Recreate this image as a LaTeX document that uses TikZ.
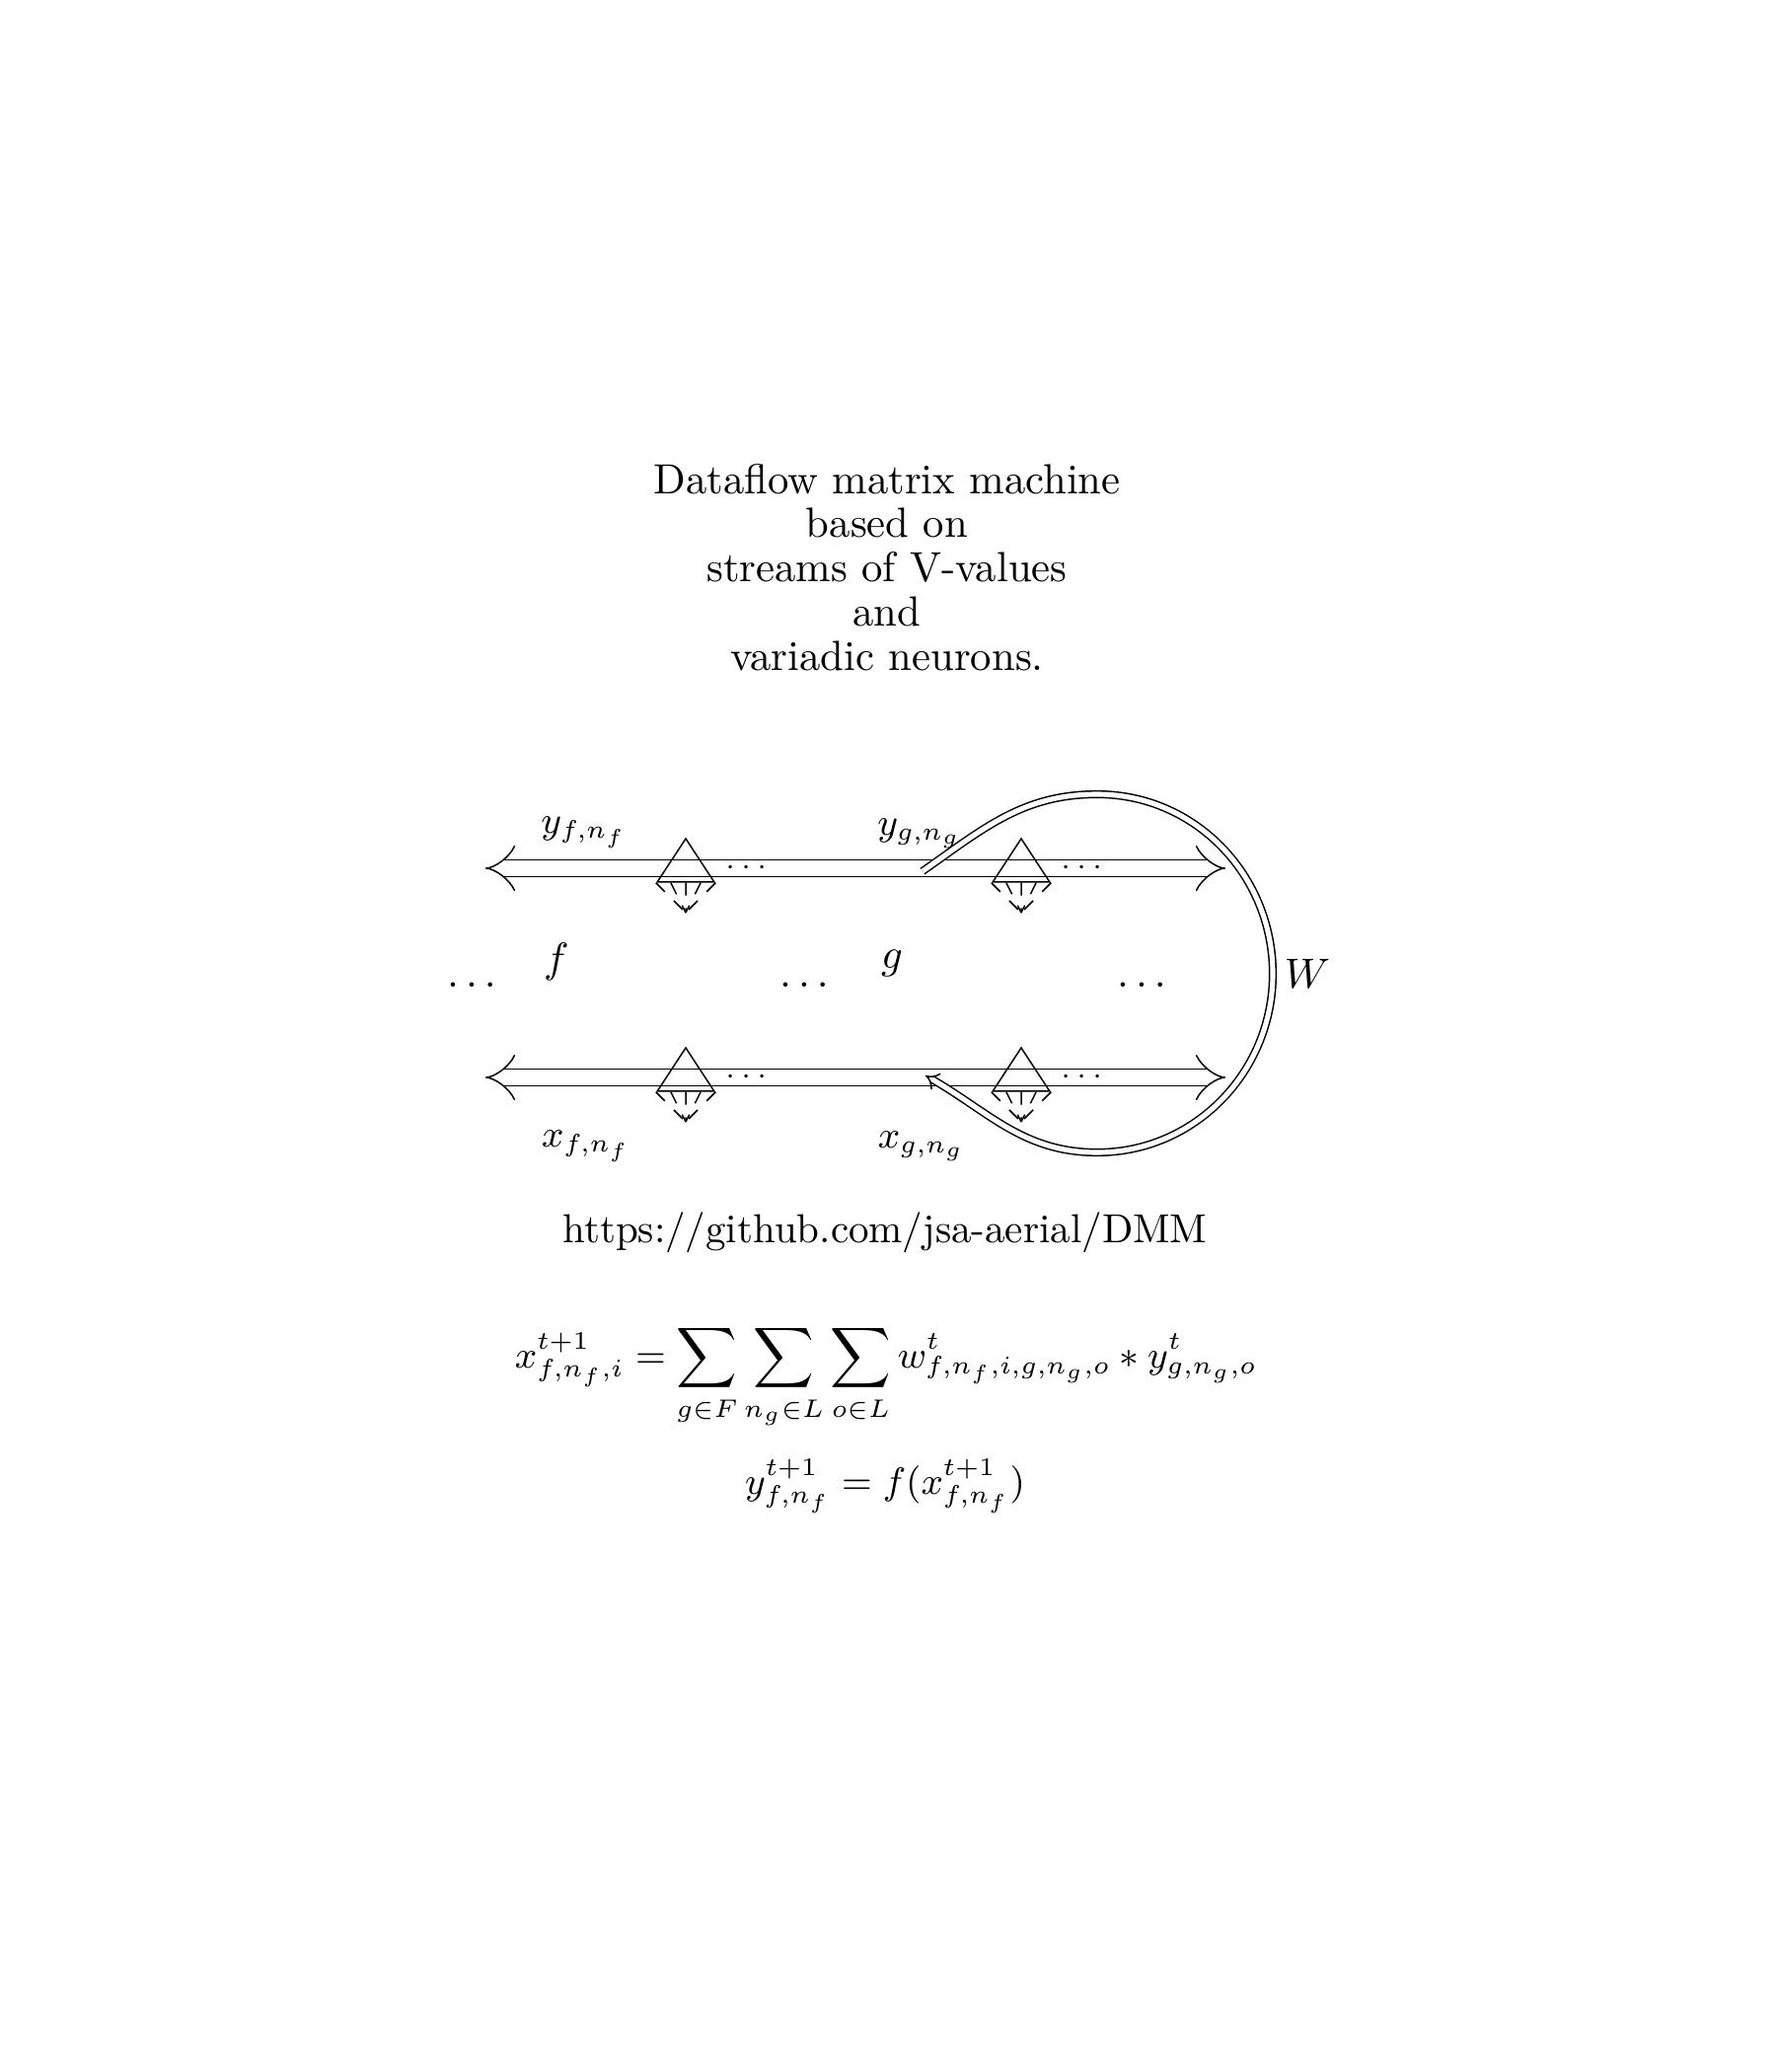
\documentclass[tikz,border=0pt]{standalone}
\usetikzlibrary{arrows.meta,shapes.geometric,calc}

\tikzset{
  stream/.style={double, double distance=3.6pt, line width=0.35pt, {Implies}-{Implies}},
  wloop/.style={double, double distance=1.2pt, line width=0.35pt, -{Implies}},
  neuron/.style={draw, isosceles triangle, shape border rotate=90,
    isosceles triangle stretches, minimum height=10.3pt, minimum width=13.5pt,
    inner sep=0pt, anchor=apex, line width=0.35pt},
  fan/.style={dashed, line width=0.35pt},
  lbl/.style={font=\small},
}

\begin{document}
\begin{tikzpicture}[x=0.234pt,y=-0.234pt]
\useasboundingbox (0,0) rectangle (1800,2100);

\node[align=center] (title) at (899,575)
  {Dataflow matrix machine\\[-1.5pt]based on\\[-1.5pt]streams of V-values\\[-1.5pt]and\\[-1.5pt]variadic neurons.};

% the two streams
\coordinate (outL) at (492,880);
\coordinate (outR) at (1242,880);
\coordinate (inL) at (492,1092);
\coordinate (inR) at (1242,1092);
\draw[stream] (outL) -- (outR);
\draw[stream] (inL) -- (inR);

% neurons f and g, output row and input row
\foreach \nx/\nn in {695/f,1035/g}{
  \foreach \ry/\rn in {880/out,1092/in}{
    \node[neuron] (\nn\rn) at (\nx,\ry-32) {};
    \coordinate (\nn\rn fan) at (\nx,\ry+45);
    \foreach \k in {0,0.25,0.5,0.75,1}
      \draw[fan] ($(\nn\rn.left corner)!\k!(\nn\rn.right corner)$) -- (\nn\rn fan);
    \node[font=\scriptsize] (\nn\rn dots) at (\nx+62,\ry) {$\cdots$};
  }
}

\node[lbl] (yf) at (592,844) {$y_{f,n_f}$};
\node[lbl] (yg) at (932,845) {$y_{g,n_g}$};
\node[lbl] (xf) at (594,1162) {$x_{f,n_f}$};
\node[lbl] (xg) at (934,1162) {$x_{g,n_g}$};

\node (f) at (564,975) {$f$};
\node (g) at (904,976) {$g$};
\node (dotsA) at (478,998) {$\dots$};
\node (dotsB) at (815,998) {$\dots$};
\node (dotsC) at (1157,998) {$\dots$};

% matrix W feeding outputs back to inputs
\coordinate (wfrom) at (935,883);
\coordinate (wto) at (938,1090);
\draw[wloop] (wfrom) to[out=35,in=180] (1112,805) to[out=0,in=90] (1290,987)
  to[out=-90,in=0] (1112,1168) to[out=180,in=-30] (wto);
\node (W) at (1325,987) {$W$};

\node[font=\fontsize{9.6}{11}\selectfont] (url) at (897,1249) {https://github.com/jsa-aerial/DMM};

\node[lbl, anchor=base] (eqx) at (898,1386)
  {$\displaystyle x^{t+1}_{f,n_f,i} = \sum_{g\in F}\sum_{n_g\in L}\sum_{o\in L} w^t_{f,n_f,i,g,n_g,o} * y^t_{g,n_g,o}$};
\node[lbl, anchor=base] (eqy) at (897,1514)
  {$\displaystyle y^{t+1}_{f,n_f} = f(x^{t+1}_{f,n_f})$};
\end{tikzpicture}
\end{document}
